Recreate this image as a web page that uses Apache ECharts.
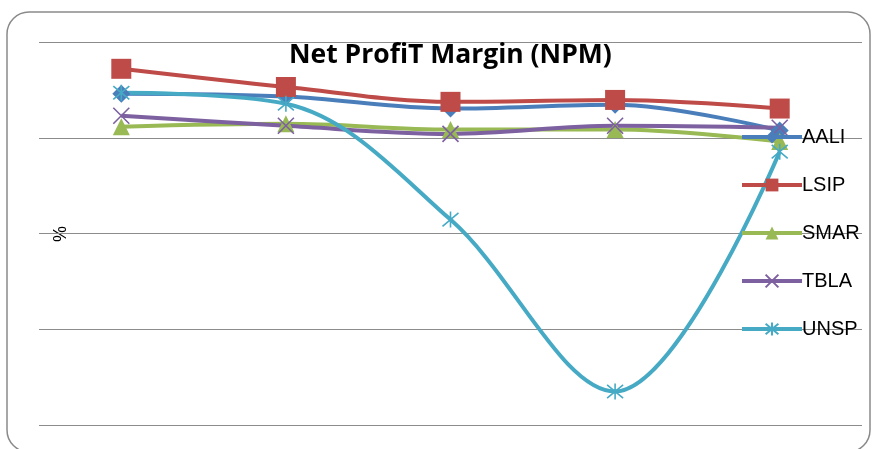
<!DOCTYPE html>
<html>
<head>
<meta charset="utf-8">
<script src="https://cdn.jsdelivr.net/npm/echarts@6/dist/echarts.min.js"></script>
<style>
  html, body { margin: 0; padding: 0; background: #fff; }
  #app { width: 877px; height: 449px; }
</style>
</head>
<body>
<div id="app"></div>
<script>
const years = ['1', '2', '3', '4', '5'];
const aali = [9.2, 8.6, 6.1, 6.9, 1.5];
const lsip = [14.4, 10.6, 7.5, 7.9, 6.1];
const smar = [2.3, 2.9, 1.7, 1.7, -0.8];
const tbla = [4.6, 2.5, 0.8, 2.5, 2.1];
const unsp = [9.4, 7.1, -17.1, -53.0, -2.9];

const myChart = echarts.init(document.getElementById('app'));

const xPath = 'path://M0 0L20 20M20 0L0 20';
const starPath = 'path://M0 0L20 20M20 0L0 20M10 -2L10 22';

const mkSeries = (name, data, color, symbol, size, stroke) => ({
  name,
  type: 'line',
  data,
  smooth: 0.35,
  symbol,
  symbolSize: size,
  showAllSymbol: true,
  lineStyle: { color, width: 4 },
  itemStyle: stroke
    ? { color: 'rgba(0,0,0,0)', borderColor: color, borderWidth: 1.6 }
    : { color, borderWidth: 0 },
  emphasis: { disabled: true },
});

const option = {
  animation: false,
  title: {
    text: 'Net ProfiT Margin (NPM)',
    left: 284,
    top: 37,
    textStyle: { fontFamily: 'Open Sans, sans-serif', fontSize: 26.5, fontWeight: 'bold', color: '#000' },
  },
  legend: {
    orient: 'vertical',
    left: 740,
    top: 127,
    padding: 0,
    itemGap: 28,
    itemWidth: 60,
    itemHeight: 16,
    lineStyle: { width: 4 },
    textStyle: { fontFamily: 'Liberation Sans, sans-serif', fontSize: 20, color: '#000', padding: [0, 0, 0, -5] },
    data: ['AALI', 'LSIP', 'SMAR', 'TBLA', 'UNSP'],
  },
  grid: { left: 39, right: 15, top: 42, bottom: 24 },
  xAxis: {
    type: 'category',
    data: years,
    boundaryGap: true,
    axisLine: { show: false },
    axisTick: { show: false },
    axisLabel: { show: false },
  },
  yAxis: {
    type: 'value',
    min: -60,
    max: 20,
    interval: 20,
    axisLine: { show: false },
    axisTick: { show: false },
    axisLabel: { show: false },
    splitLine: { lineStyle: { color: '#8c8c8c', width: 1.2 } },
  },
  graphic: [
    {
      type: 'rect',
      shape: { x: 7, y: 12, width: 863, height: 440, r: 22 },
      style: { fill: 'none', stroke: '#8a8a8a', lineWidth: 1.5 },
      z: -1,
    },
    {
      type: 'text',
      x: 52,
      y: 242,
      rotation: Math.PI / 2,
      style: { text: '%', fontSize: 18, fontFamily: 'Liberation Sans, sans-serif', fill: '#000' },
    },
  ],
  series: [
    mkSeries('AALI', aali, '#4a7ebb', 'diamond', 18, false),
    mkSeries('LSIP', lsip, '#be4b48', 'rect', 20, false),
    mkSeries('SMAR', smar, '#98b954', 'triangle', 17, false),
    mkSeries('TBLA', tbla, '#7d60a0', xPath, 16, true),
    mkSeries('UNSP', unsp, '#46aac5', starPath, 16, true),
  ],
};

myChart.setOption(option);
</script>
</body>
</html>
